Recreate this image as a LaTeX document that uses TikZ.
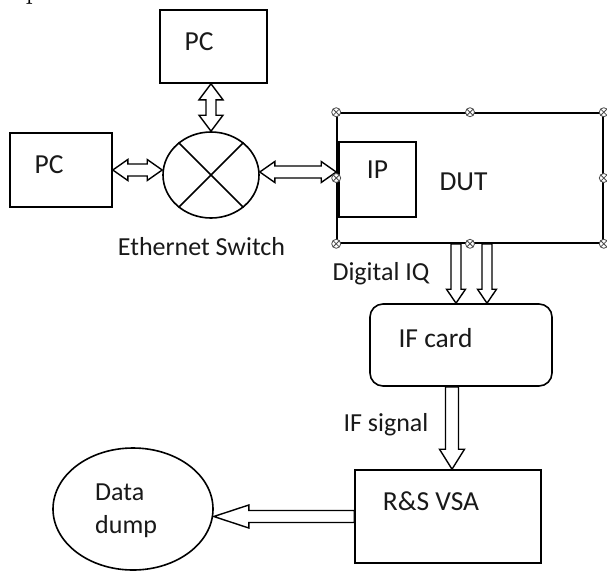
\documentclass[tikz,border=0pt]{standalone}
\usepackage{fontspec}
\newfontfamily\carl{Carlito}
\usetikzlibrary{calc,shapes.geometric}
\newcommand{\sglarrow}[5]{%
  \coordinate (sa1) at (#1);
  \coordinate (sa2) at (#2);
  \coordinate (sah) at ($(sa2)!#5!(sa1)$);
  \draw[blockarrow] ($(sa1)!#3!90:(sa2)$) -- ($(sah)!#3!90:(sa2)$) -- ($(sah)!#4!90:(sa2)$) -- (sa2) -- ($(sah)!#4!-90:(sa2)$) -- ($(sah)!#3!-90:(sa2)$) -- ($(sa1)!#3!-90:(sa2)$) -- cycle;}
\newcommand{\dblarrow}[5]{%
  \coordinate (sa1) at (#1);
  \coordinate (sa2) at (#2);
  \coordinate (sh1) at ($(sa1)!#5!(sa2)$);
  \coordinate (sh2) at ($(sa2)!#5!(sa1)$);
  \draw[blockarrow] (sa1) -- ($(sh1)!#4!90:(sa2)$) -- ($(sh1)!#3!90:(sa2)$) -- ($(sh2)!#3!90:(sa2)$) -- ($(sh2)!#4!90:(sa2)$) -- (sa2) -- ($(sh2)!#4!-90:(sa2)$) -- ($(sh2)!#3!-90:(sa2)$) -- ($(sh1)!#3!-90:(sa2)$) -- ($(sh1)!#4!-90:(sa2)$) -- cycle;}
\tikzset{
  box/.style={draw, line width=1.6pt, inner sep=0pt},
  blockarrow/.style={draw, fill=white, line width=1.4pt, line join=miter},
  lbl/.style={font=\carl\fontsize{26}{30}\selectfont, inner sep=0pt, text=black!90, anchor=base},
  blbl/.style={font=\carl\fontsize{27.5}{32}\selectfont, inner sep=0pt, text=black!90, anchor=base},
  hdl/.style={circle, draw=black!70, fill=white, line width=0.8pt, minimum size=9pt, inner sep=0pt,
    path picture={\draw[black!70, line width=0.8pt] (path picture bounding box.north west) -- (path picture bounding box.south east) (path picture bounding box.north east) -- (path picture bounding box.south west);}}
}
\begin{document}
\begin{tikzpicture}[x=1pt, y=-1pt]
\useasboundingbox[fill=white] (0,0) rectangle (607,571);
% stray serif letter at top-left (cut off in the reference)
\node[inner sep=0pt, anchor=base west, font=\fontsize{30}{34}\selectfont] (stray) at (25.5,-2) {p};
% boxes
\node[box, minimum width=107, minimum height=73] (pct) at (213.5,46.5) {};
\node[box, minimum width=102, minimum height=74] (pcl) at (61,170) {};
\node[box, ellipse, minimum width=96, minimum height=86] (sw) at (211,175) {};
\draw[line width=1.6pt] (sw.45) -- (sw.225) (sw.135) -- (sw.315);
\node[box, minimum width=266, minimum height=130] (dut) at (470,178) {};
\node[box, minimum width=77, minimum height=75] (ip) at (377.5,179.5) {};
\draw[line width=2.5pt] (ip.north west) -- (ip.south west);
\node[box, rounded corners=13pt, minimum width=182, minimum height=82] (ifc) at (461,345) {};
\node[box, minimum width=186, minimum height=93] (vsa) at (448,516.5) {};
\node[box, ellipse, minimum width=160, minimum height=122] (dd) at (133,509) {};
% texts
\node[blbl] (tpct) at (199,50) {PC};
\node[blbl] (tpcl) at (49,173) {PC};
\node[lbl] (tsw) at (201.5,255) {Ethernet Switch};
\node[blbl] (tip) at (377.5,178) {IP};
\node[blbl] (tdut) at (463.5,190) {DUT};
\node[lbl] (tdiq) at (381,280) {Digital IQ};
\node[blbl] (tifc) at (435.5,347) {IF card};
\node[lbl] (tifs) at (386,431) {IF signal};
\node[blbl] (tvsa) at (431,510) {R\&S VSA};
\node[lbl, anchor=base west] (tdata) at (95,500) {Data};
\node[lbl, anchor=base west] (tdump) at (95,533) {dump};
% connectors
\coordinate (ta) at (sw.north |- pct.south);
\dblarrow{ta}{sw.north}{5pt}{12pt}{16pt}
\dblarrow{pcl.east}{pcl.east -| sw.west}{6pt}{10.5pt}{15pt}
\coordinate (ra) at ($(sw.east)+(0,-3)$);
\dblarrow{ra}{ra -| dut.west}{6pt}{10.5pt}{15pt}
\coordinate (dq1) at ($(dut.south)+(-14,0)$);
\coordinate (dq2) at ($(dut.south)+(17,0)$);
\sglarrow{dq1}{dq1 |- ifc.north}{5pt}{9.5pt}{14pt}
\sglarrow{dq2}{dq2 |- ifc.north}{5pt}{9.5pt}{14pt}
\coordinate (is) at ($(ifc.south)+(-9,0)$);
\sglarrow{is}{is |- vsa.north}{6.5pt}{12.5pt}{20pt}
\sglarrow{vsa.west}{vsa.west -| dd.east}{6pt}{11.5pt}{35pt}
% handles on DUT
\foreach \a in {north west,north,north east,east,south east,south,south west,west}
  \node[hdl] at (dut.\a) {};
\end{tikzpicture}
\end{document}
